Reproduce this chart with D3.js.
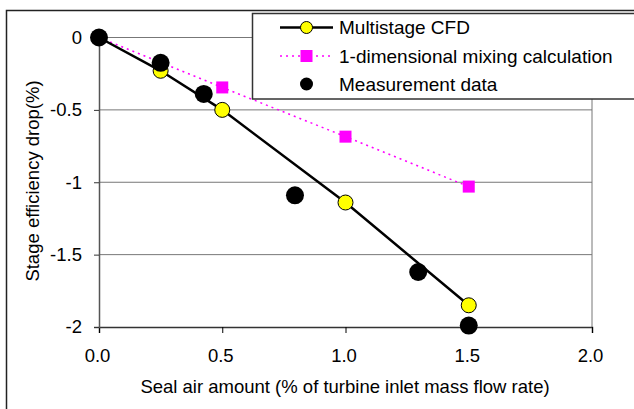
<!DOCTYPE html>
<html><head><meta charset="utf-8">
<script src="https://cdn.jsdelivr.net/npm/d3@7"></script>
<style>body{margin:0;background:#fff}svg{display:block;font-family:"Liberation Sans",Arial,sans-serif}</style>
</head><body><svg id="c" width="634" height="409"></svg>
<script>
const cfdX = [0, 0.25, 0.5, 1.0, 1.5];
const cfdY = [0, -0.23, -0.5, -1.14, -1.85];
const mixX = [0, 0.5, 1.0, 1.5];
const mixY = [0, -0.345, -0.685, -1.03];
const measX = [0, 0.25, 0.425, 0.795, 1.295, 1.5];
const measY = [0, -0.175, -0.39, -1.09, -1.62, -1.99];
const xTicks = [0, 0.5, 1.0, 1.5, 2.0];
const yTicks = [0, -0.5, -1, -1.5, -2];
const seriesNames = ["Multistage CFD", "1-dimensional mixing calculation", "Measurement data"];

const FS = 18.5;
const svg = d3.select("#c");
const x = d3.scaleLinear().domain([0, 2]).range([99, 592]);
const y = d3.scaleLinear().domain([-2, 0]).range([327, 37.5]);

// outer frame
svg.append("path").attr("d", "M6.5,409 V10.5 H634").attr("fill", "none").attr("stroke", "#222").attr("stroke-width", 1.5);

// gridlines
svg.append("g").selectAll("line").data(yTicks.filter(d => d !== -2)).join("line")
  .attr("x1", x(0)).attr("x2", x(2)).attr("y1", d => y(d)).attr("y2", d => y(d))
  .attr("stroke", "#777").attr("stroke-width", 1);
// right border
svg.append("line").attr("x1", x(2)).attr("x2", x(2)).attr("y1", y(0)).attr("y2", y(-2))
  .attr("stroke", "#777").attr("stroke-width", 1);

// axes
const xAxis = d3.axisBottom(x).tickValues(xTicks).tickFormat(d3.format(".1f")).tickSize(6).tickPadding(16);
const gx = svg.append("g").attr("transform", `translate(0,${y(-2)})`).call(xAxis);
gx.select(".domain").attr("stroke", "#333").attr("stroke-width", 1.5);
gx.selectAll(".tick line").attr("stroke", "#000");
gx.selectAll("text").attr("font-size", FS).attr("fill", "#000").attr("dx", -2).attr("font-family", "Liberation Sans, Arial, sans-serif");

const yAxis = d3.axisLeft(y).tickValues(yTicks).tickFormat(d => d === 0 ? "0" : String(d)).tickSize(5).tickPadding(12);
const gy = svg.append("g").attr("transform", `translate(${x(0)},0)`).call(yAxis);
gy.select(".domain").attr("stroke", "#555").attr("stroke-width", 1.5);
gy.selectAll(".tick line").attr("stroke", "#333");
gy.selectAll("text").attr("font-size", FS).attr("fill", "#000").attr("font-family", "Liberation Sans, Arial, sans-serif");

// axis titles
svg.append("text").attr("x", 345).attr("y", 393).attr("text-anchor", "middle").attr("font-size", FS)
  .text("Seal air amount (% of turbine inlet mass flow rate)");
svg.append("text").attr("transform", `translate(38.5,181) rotate(-90)`).attr("text-anchor", "middle").attr("font-size", FS)
  .text("Stage efficiency drop(%)");

// series
const line = d3.line().x(d => x(d[0])).y(d => y(d[1]));
const mix = mixX.map((v, i) => [v, mixY[i]]);
const cfd = cfdX.map((v, i) => [v, cfdY[i]]);
const meas = measX.map((v, i) => [v, measY[i]]);

svg.append("path").datum(mix).attr("d", line).attr("fill", "none").attr("stroke", "#ff00ff").attr("stroke-width", 1.5).attr("stroke-dasharray", "2,4");
svg.append("g").selectAll("rect").data(mix).join("rect")
  .attr("x", d => x(d[0]) - 6).attr("y", d => y(d[1]) - 6).attr("width", 12).attr("height", 12).attr("fill", "#ff00ff");

svg.append("path").datum(cfd).attr("d", line).attr("fill", "none").attr("stroke", "#000").attr("stroke-width", 2.5);
svg.append("g").selectAll("circle").data(cfd).join("circle")
  .attr("cx", d => x(d[0])).attr("cy", d => y(d[1])).attr("r", 7.5).attr("fill", "#ffff00").attr("stroke", "#000").attr("stroke-width", 1);

svg.append("g").selectAll("circle").data(meas).join("circle")
  .attr("cx", d => x(d[0])).attr("cy", d => y(d[1])).attr("r", 9).attr("fill", "#000");

// legend
const lg = svg.append("g");
lg.append("rect").attr("x", 252.5).attr("y", 13.5).attr("width", 390).attr("height", 85.5).attr("fill", "#fff").attr("stroke", "#333").attr("stroke-width", 1.5);
const rowsY = [27.5, 56, 84];
lg.append("line").attr("x1", 280).attr("x2", 333).attr("y1", rowsY[0]).attr("y2", rowsY[0]).attr("stroke", "#000").attr("stroke-width", 2.5);
lg.append("circle").attr("cx", 306.5).attr("cy", rowsY[0]).attr("r", 6).attr("fill", "#ffff00").attr("stroke", "#000");
lg.append("line").attr("x1", 280).attr("x2", 333).attr("y1", rowsY[1]).attr("y2", rowsY[1]).attr("stroke", "#ff00ff").attr("stroke-width", 1.5).attr("stroke-dasharray", "2,4");
lg.append("rect").attr("x", 300.5).attr("y", rowsY[1] - 6).attr("width", 12).attr("height", 12).attr("fill", "#ff00ff");
lg.append("circle").attr("cx", 306.5).attr("cy", rowsY[2]).attr("r", 6.5).attr("fill", "#000");
lg.selectAll("text").data(seriesNames).join("text")
  .attr("x", 339).attr("y", (d, i) => rowsY[i]).attr("dy", "0.35em").attr("font-size", 19).text(d => d);
</script></body></html>
